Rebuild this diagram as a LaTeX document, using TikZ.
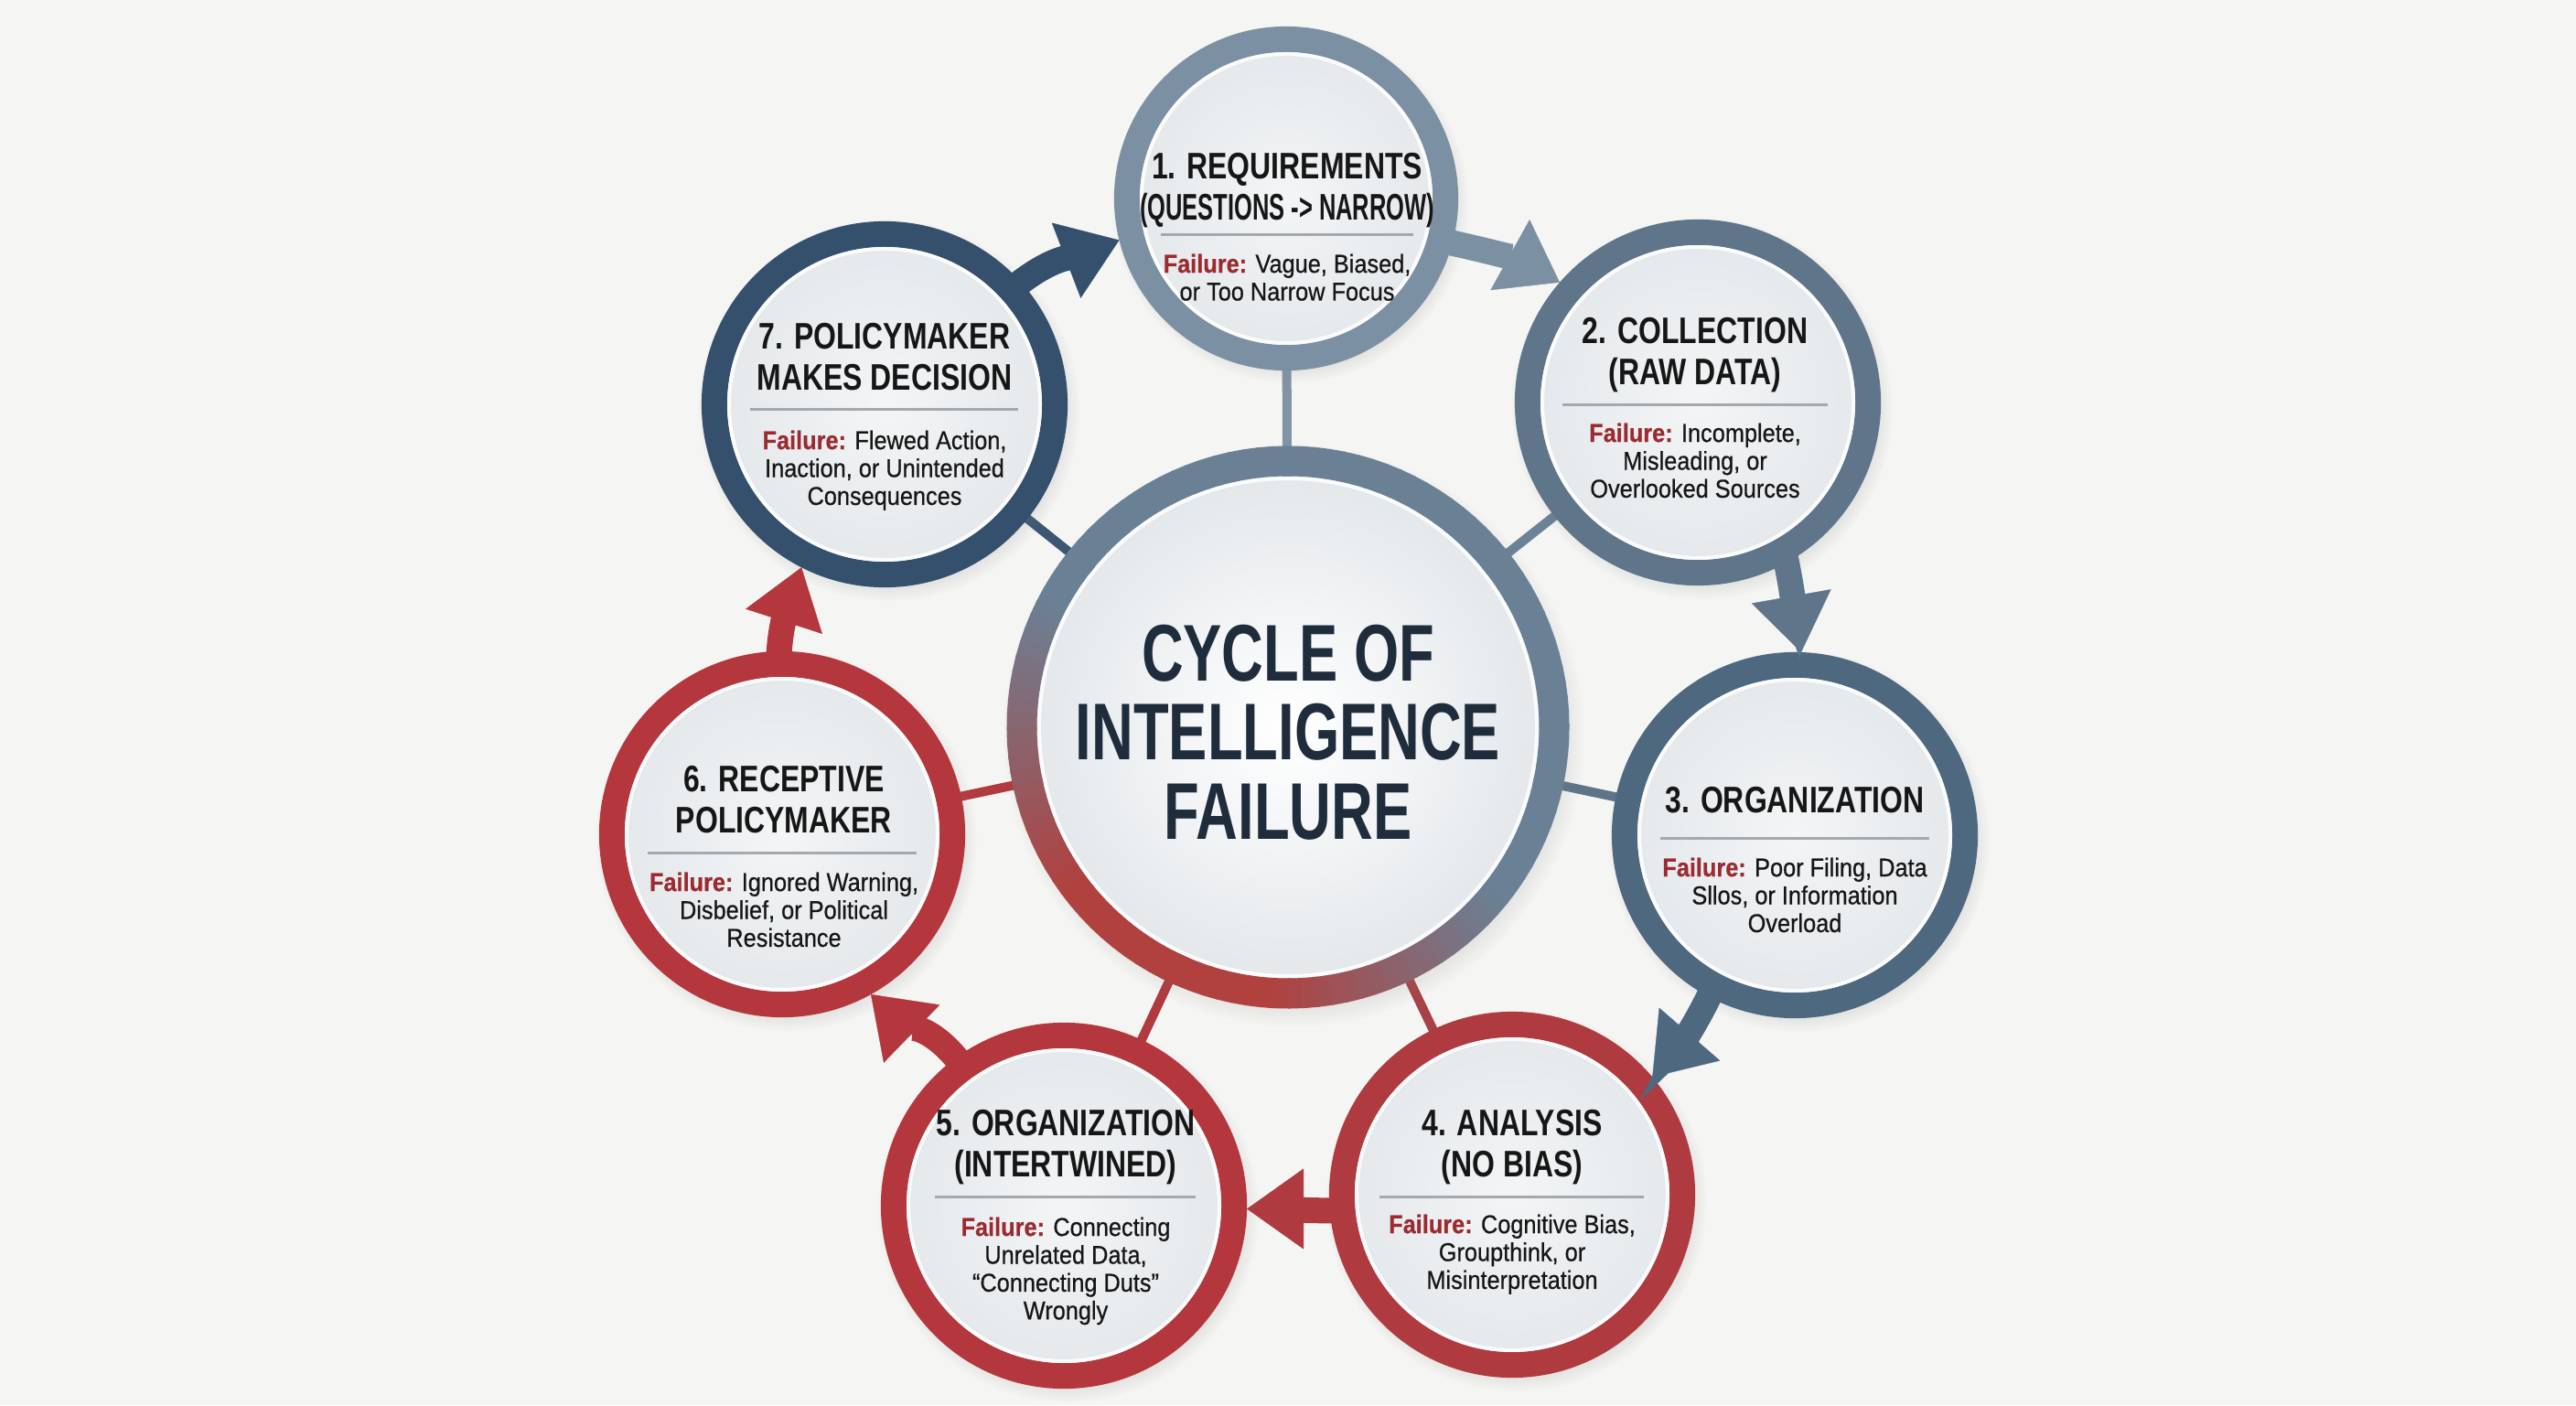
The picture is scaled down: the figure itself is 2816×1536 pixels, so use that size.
\documentclass[tikz,border=0pt]{standalone}
\usepackage{fontspec}
\setmainfont{Liberation Sans}
\newfontfamily\ttlfont[FakeStretch=0.79]{Liberation Sans}
\newfontfamily\ttlnarrow[FakeStretch=0.63]{Liberation Sans}
\newfontfamily\bodyfont[FakeStretch=0.90, FakeBold=0.6]{Liberation Sans}
\newfontfamily\ctrfont[FakeStretch=0.72]{Liberation Sans}
\usetikzlibrary{arrows.meta,shadows}
\pgfdeclarelayer{bg}
\pgfsetlayers{bg,main}

\definecolor{bgc}{HTML}{F5F5F3}
\definecolor{c1}{HTML}{7B90A2}
\definecolor{c2}{HTML}{5E758A}
\definecolor{c3}{HTML}{4E6880}
\definecolor{c7}{HTML}{34506D}
\definecolor{cr}{HTML}{B3373C}
\definecolor{cr4}{HTML}{AF3B40}
\definecolor{fillc}{HTML}{E4E8EB}
\definecolor{fillhi}{HTML}{F3F5F6}
\definecolor{txt}{HTML}{161616}
\definecolor{fred}{HTML}{9B2B30}
\definecolor{sepc}{HTML}{A3A9AF}
\definecolor{ctxt}{HTML}{1F2C3B}
\definecolor{ringblue}{HTML}{6A8195}
\definecolor{ringred}{HTML}{B0413F}
\definecolor{s1}{HTML}{8094A6}
\definecolor{s2}{HTML}{6C8296}
\definecolor{s3}{HTML}{5D7489}
\definecolor{s7}{HTML}{3D5772}
\definecolor{s4}{HTML}{A84246}
\definecolor{s5}{HTML}{B03A3F}
\definecolor{s6}{HTML}{B23A3E}

\tikzset{
  stagecirc/.style={circle, draw=#1, line width=0.28cm, minimum size=3.72cm,
    inner sep=0pt, inner color=fillhi, outer color=fillc,
    circular drop shadow={shadow xshift=0.04cm, shadow yshift=-0.06cm,
      shadow scale=1.12, opacity=0.28}},
  smallstage/.style={stagecirc=#1, minimum size=3.48cm},
  ttl/.style={font=\ttlfont\bfseries\fontsize{11.5}{12.8}\selectfont, text=txt,
    align=center, inner sep=0pt, anchor=north},
  fl/.style={font=\bodyfont\fontsize{8}{8.65}\selectfont, text=txt,
    align=center, inner sep=0pt, anchor=north},
  sepline/.style={draw=sepc, line width=0.03cm},
  spoke/.style={line width=0.1cm},
  flow/.style={line width=0.28cm, shorten <=-0.12cm,
    -{Triangle[length=0.62cm, width=0.88cm, line width=0.1pt]}},
  innerrim/.style={draw=white, line width=0.04cm, opacity=0.85},
}
\newcommand{\fail}{\textcolor{fred}{\bfseries Failure:}}

\begin{document}
\begin{tikzpicture}[x=0.01cm, y=0.01cm]
\useasboundingbox (0,0) rectangle (2816,1536);

% central circle
\node[circle, minimum size=5.48cm, inner sep=0pt, inner color=white, outer color=fillc,
  circular drop shadow={shadow xshift=0.05cm, shadow yshift=-0.08cm, shadow scale=1.16, opacity=0.3}]
  (c) at (1408,741) {};
\foreach \a in {0,3,...,357}{
  \pgfmathtruncatemacro\redpct{ifthenelse(\a<150,0,ifthenelse(\a<215,(\a-150)/65*100,ifthenelse(\a<265,100,ifthenelse(\a<320,(320-\a)/55*100,0))))}
  \draw[line width=0.33cm, draw=ringred!\redpct!ringblue] (c.center) ++(\a:291) arc[start angle=\a, end angle=\a+3.6, radius=291];
}
\draw[innerrim] (c.center) circle[radius=272];

% stage circles
\node[smallstage=c1] (n1) at (1406,1319) {};
\node[stagecirc=c2] (n2) at (1856,1096) {};
\node[stagecirc=c3] (n3) at (1962,623) {};
\node[stagecirc=cr4] (n4) at (1653,230) {};
\node[stagecirc=cr] (n5) at (1163,218) {};
\node[stagecirc=cr] (n6) at (855,624) {};
\node[stagecirc=c7] (n7) at (967,1094) {};

\draw[innerrim] (n1.center) circle[radius=158];
\foreach \n in {n2,n3,n4,n5,n6,n7}{
  \draw[innerrim] (\n.center) circle[radius=170];
}

% spokes
\begin{pgfonlayer}{bg}
\fill[bgc] (0,0) rectangle (2816,1536);
\draw[spoke, s1] (c.center) -- (n1.center);
\draw[spoke, s2] (c.center) -- (n2.center);
\draw[spoke, s3] (c.center) -- (n3.center);
\draw[spoke, s4] (c.center) -- (n4.center);
\draw[spoke, s5] (c.center) -- (n5.center);
\draw[spoke, s6] (c.center) -- (n6.center);
\draw[spoke, s7] (c.center) -- (n7.center);
\end{pgfonlayer}

% centre title
\node[font=\ctrfont\bfseries\fontsize{25}{24.6}\selectfont, text=ctxt, align=center,
  inner sep=0pt, anchor=north] (ctitle) at (1408,854) {CYCLE OF\\INTELLIGENCE\\FAILURE};

% stage texts
\node[ttl] (t1) at (1407,1369) {1. REQUIREMENTS\\{\ttlnarrow\bfseries (QUESTIONS -> NARROW)}};
\draw[sepline] (1269,1279) -- (1545,1279);
\node[fl] (f1) at (1407,1259) {\fail{} Vague, Biased,\\or Too Narrow Focus};

\node[ttl] (t2) at (1853,1189) {2. COLLECTION\\(RAW DATA)};
\draw[sepline] (1708,1093) -- (1998,1093);
\node[fl] (f2) at (1853,1074) {\fail{} Incomplete,\\Misleading, or\\Overlooked Sources};

\node[ttl] (t3) at (1962,676) {3. ORGANIZATION};
\draw[sepline] (1815,619) -- (2109,619);
\node[fl] (f3) at (1962,599) {\fail{} Poor Filing, Data\\Sllos, or Information\\Overload};

\node[ttl] (t4) at (1653,323) {4. ANALYSIS\\(NO BIAS)};
\draw[sepline] (1508,228) -- (1797,228);
\node[fl] (f4) at (1653,209) {\fail{} Cognitive Bias,\\Groupthink, or\\Misinterpretation};

\node[ttl] (t5) at (1165,323) {5. ORGANIZATION\\(INTERTWINED)};
\draw[sepline] (1022,228) -- (1307,228);
\node[fl] (f5) at (1165,206) {\fail{} Connecting\\Unrelated Data,\\“Connecting Duts”\\Wrongly};

\node[ttl] (t6) at (857,699) {6. RECEPTIVE\\POLICYMAKER};
\draw[sepline] (708,603) -- (1002,603);
\node[fl] (f6) at (857,583) {\fail{} Ignored Warning,\\Disbelief, or Political\\Resistance};

\node[ttl] (t7) at (967,1183) {7. POLICYMAKER\\MAKES DECISION};
\draw[sepline] (820,1088) -- (1113,1088);
\node[fl] (f7) at (967,1066) {\fail{} Flewed Action,\\Inaction, or Unintended\\Consequences};

% cycle arrows
\draw[flow, draw=c1] (n1.-15) to[out=-12, in=151] (n2.139);
\draw[flow, draw=c2] (n2.-61) to[out=-78, in=100] (n3.88);
\draw[flow, draw=c3] (n3.-118) to[out=-115, in=49] (n4.40);
\draw[flow, draw=cr4] (n4.185) to[out=180, in=0] (n5.-1);
\draw[flow, draw=cr] (n5.126) to[out=126, in=-44] (n6.-61);
\draw[flow, draw=cr] (n6.91) to[out=88, in=-108] (n7.-117);
\draw[flow, draw=c7] (n7.42) to[out=40, in=-159] (n1.194);
\end{tikzpicture}
\end{document}
